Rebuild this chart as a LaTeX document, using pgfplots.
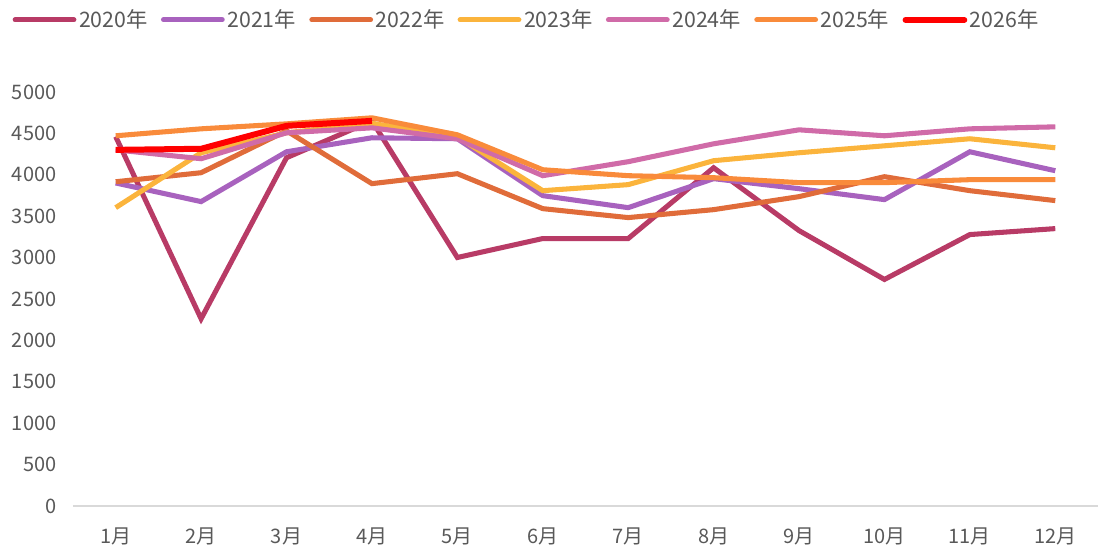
\documentclass[border=0pt]{standalone}
\usepackage{pgfplots}
\pgfplotsset{compat=1.18}
\usepackage{fontspec}
\setmainfont{Noto Sans CJK SC}

\definecolor{c20}{HTML}{B83B66}
\definecolor{c21}{HTML}{A862BE}
\definecolor{c22}{HTML}{E06C3A}
\definecolor{c23}{HTML}{FBB43C}
\definecolor{c24}{HTML}{D06BA8}
\definecolor{c25}{HTML}{F98B3B}
\definecolor{c26}{HTML}{FF0000}
\definecolor{txt}{HTML}{595959}
\definecolor{axl}{HTML}{D9D9D9}

\begin{document}
\begin{tikzpicture}
\begin{axis}[
    scale only axis,
    width=770pt, height=311pt,
    xmin=0.5, xmax=12.5,
    ymin=0, ymax=5000,
    clip=false,
    xtick={1,...,12},
    xticklabels={1月,2月,3月,4月,5月,6月,7月,8月,9月,10月,11月,12月},
    ytick={0,500,...,5000},
    axis x line=bottom,
    axis y line=left,
    x axis line style={draw=axl, line width=1.5pt, -},
    y axis line style={draw=none},
    major tick length=0pt,
    tick label style={font=\fontsize{15}{17}\selectfont, text=txt},
    yticklabel style={xshift=-9pt},
    xticklabel style={yshift=-13pt},
    /pgf/number format/assume math mode=true,
    /pgf/number format/1000 sep={},
    every axis plot/.append style={line width=3.8pt, line join=miter},
    legend columns=7,
    legend style={draw=none, at={(-0.063,1.174)}, anchor=west,
        font=\fontsize{16}{18}\selectfont, text=txt,
        /tikz/every even column/.append style={column sep=8pt}},
    legend image code/.code={\draw[#1, line cap=round] (0cm,0cm) -- (1.55cm,0cm);},
]
\addplot[c20] coordinates {(1,4460)(2,2260)(3,4205)(4,4650)(5,3000)(6,3229)(7,3229)(8,4084)(9,3325)(10,2735)(11,3277)(12,3349)};
\addplot[c21] coordinates {(1,3900)(2,3675)(3,4277)(4,4446)(5,4434)(6,3747)(7,3602)(8,3952)(9,3831)(10,3699)(11,4277)(12,4048)};
\addplot[c22] coordinates {(1,3915)(2,4024)(3,4530)(4,3892)(5,4012)(6,3590)(7,3482)(8,3578)(9,3735)(10,3976)(11,3807)(12,3687)};
\addplot[c23] coordinates {(1,3602)(2,4265)(3,4506)(4,4620)(5,4458)(6,3807)(7,3880)(8,4169)(9,4265)(10,4349)(11,4434)(12,4325)};
\addplot[c24] coordinates {(1,4300)(2,4193)(3,4506)(4,4566)(5,4434)(6,3988)(7,4157)(8,4373)(9,4542)(10,4470)(11,4554)(12,4578)};
\addplot[c25] coordinates {(1,4470)(2,4554)(3,4614)(4,4687)(5,4482)(6,4060)(7,3988)(8,3964)(9,3904)(10,3904)(11,3940)(12,3940)};
\addplot[c26, line width=4.5pt] coordinates {(1,4300)(2,4313)(3,4590)(4,4650)};
\legend{2020年,2021年,2022年,2023年,2024年,2025年,2026年}
\path (rel axis cs:-0.0712,1.222);
\end{axis}
\end{tikzpicture}
\end{document}
